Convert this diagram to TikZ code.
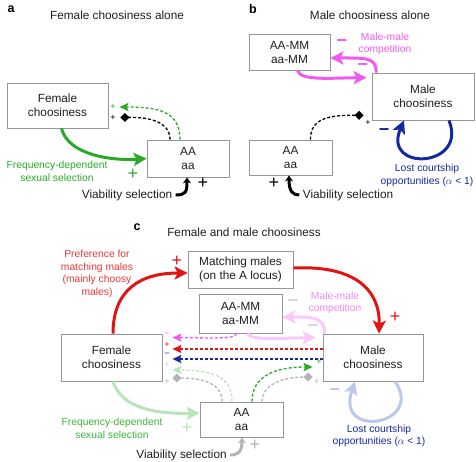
\documentclass[tikz,border=0pt]{standalone}
\usepackage{fontspec}
\setmainfont{Liberation Sans}
\usetikzlibrary{arrows.meta}

\definecolor{boxGray}{RGB}{150,150,150}
\definecolor{txtDark}{RGB}{30,30,30}
\definecolor{selGreen}{RGB}{40,170,40}
\definecolor{compMag}{RGB}{240,90,240}
\definecolor{lostBlue}{RGB}{20,40,160}
\definecolor{prefRed}{RGB}{225,20,20}
\definecolor{paleGreen}{RGB}{185,228,185}
\definecolor{paleMag}{RGB}{250,200,250}
\definecolor{paleBlue}{RGB}{185,200,235}
\definecolor{paleGray}{RGB}{180,180,180}
\definecolor{paleSign}{RGB}{225,205,225}

\tikzset{
    box/.style={draw=boxGray, line width=0.8pt, align=center, inner sep=0pt,
        text=txtDark, font=\fontsize{11.8}{14}\selectfont},
    heading/.style={text=txtDark, font=\fontsize{11.8}{14}\selectfont},
    letter/.style={font=\fontsize{12.5}{14}\selectfont\bfseries},
    lbl/.style={align=center, font=\fontsize{10.3}{12.6}\selectfont},
    signbig/.style={inner sep=0pt, font=\fontsize{18}{18}\selectfont},
    signsmall/.style={inner sep=0pt, font=\fontsize{9}{9}\selectfont},
    thickarrow/.style={line width=3pt, -{Stealth[length=13pt,width=13pt,inset=3pt]}},
    viaarrow/.style={line width=3pt, -{Stealth[length=6pt,width=8pt]}},
    dasharrow/.style={line width=1.3pt, dash pattern=on 3pt off 2pt,
        -{Stealth[length=9pt,width=8pt,inset=1.5pt]}},
    dashdiamond/.style={line width=1.3pt, dash pattern=on 3pt off 2pt,
        -{Diamond[length=9pt,width=9pt]}},
}

\begin{document}
\begin{tikzpicture}[x=1pt,y=-1pt]
    \useasboundingbox (0,0) rectangle (476,461);

    % a: female choosiness alone
    \node[letter] (la) at (11,9) {a};
    \node[heading] (tA) at (117,15) {Female choosiness alone};
    \node[box, minimum width=101pt, minimum height=45pt] (fcA) at (57.5,105.5) {Female\\choosiness};
    \node[box, minimum width=82pt, minimum height=37pt] (aaA) at (188,158.5) {AA\\aa};
    \node[lbl, text=selGreen] (fsA) at (57,171.5) {Frequency-dependent\\sexual selection};
    \node[heading] (vA) at (127,195) {Viability selection};

    \draw[thickarrow, selGreen] ([xshift=4]fcA.south) .. controls (68,155) and (112,161) .. (aaA.west);
    \draw[dasharrow, selGreen] ([xshift=-8]aaA.north) .. controls (180,112) and (160,107) .. ([xshift=11,yshift=-1.5]fcA.east);
    \draw[dashdiamond] ([xshift=-18]aaA.north) .. controls (170,122) and (150,117) .. ([xshift=12,yshift=-12]fcA.east);
    \draw[viaarrow] (vA.east) .. controls (186,195) and (187,192) .. ([xshift=-1]aaA.south);

    \node[signsmall, text=selGreen] (sA1) at (113,107) {+};
    \node[signsmall] (sA2) at (113,118) {+};
    \node[signbig, text=selGreen] (sA3) at (133,174) {+};
    \node[signbig] (sA4) at (203,183) {+};

    % b: male choosiness alone
    \node[letter] (lb) at (253,9) {b};
    \node[heading] (tB) at (370,15) {Male choosiness alone};
    \node[box, minimum width=81pt, minimum height=36pt] (mmB) at (289.5,52) {AA-MM\\aa-MM};
    \node[box, minimum width=102pt, minimum height=47pt] (mcB) at (423,96.5) {Male\\choosiness};
    \node[box, minimum width=83pt, minimum height=35pt] (aaB) at (290.5,157.5) {AA\\aa};
    \node[lbl, text=compMag] (cmB) at (385,44) {Male-male\\competition};
    \node[lbl, text=lostBlue] (loB) at (427,175.5) {Lost courtship\\opportunities ($\alpha$ < 1)};
    \node[heading] (vB) at (348,195) {Viability selection};

    \draw[thickarrow, compMag] ([xshift=-47]mcB.north) .. controls (377,57) and (365,58) .. ([yshift=-6]mmB.east);
    \draw[thickarrow, compMag] ([xshift=8]mmB.south) .. controls (300,81) and (330,78) .. ([xshift=-5,yshift=-5]mcB.north west);
    \draw[dashdiamond] ([xshift=20]aaB.north) .. controls (310,118) and (330,115) .. ([xshift=-8,yshift=5]mcB.south west);
    \draw[viaarrow] (vB.west) .. controls (293,195) and (289,192) .. ([xshift=-1.5]aaB.south);
    \draw[thickarrow, lostBlue] ([xshift=26]mcB.south) .. controls (468,168) and (382,172) .. ([xshift=-19]mcB.south);

    \node[signbig, text=compMag] (sB1) at (342,43) {\bfseries −};
    \node[signbig, text=compMag] (sB2) at (363,67) {\bfseries −};
    \node[signsmall] (sB3) at (368,123) {+};
    \node[signbig] (sB4) at (274,183) {+};
    \node[signbig, text=lostBlue] (sB5) at (384,132) {\bfseries −};

    % c: female and male choosiness
    \node[letter] (lc) at (137,227) {c};
    \node[heading] (tC) at (244,232) {Female and male choosiness};
    \node[box, minimum width=105pt, minimum height=37pt] (matC) at (240.5,269.5) {Matching males\\(on the A locus)};
    \node[box, minimum width=83pt, minimum height=39pt] (mmC) at (240.5,313.5) {AA-MM\\aa-MM};
    \node[box, minimum width=101pt, minimum height=47pt] (fcC) at (111.5,357.5) {Female\\choosiness};
    \node[box, minimum width=100pt, minimum height=47pt] (mcC) at (373,357.5) {Male\\choosiness};
    \node[box, minimum width=83pt, minimum height=35pt] (aaC) at (241.5,419.5) {AA\\aa};
    \node[lbl, text=prefRed!85!white] (prC) at (97,274) {Preference for\\matching males\\(mainly choosy\\males)};
    \node[lbl, text=compMag!75!white] (cmC) at (335,303) {Male-male\\competition};
    \node[lbl, text=selGreen!90!white] (fsC) at (112,428.5) {Frequency-dependent\\sexual selection};
    \node[lbl, text=lostBlue] (loC) at (379,436) {Lost courtship\\opportunities ($\alpha$ < 1)};
    \node[heading] (vC) at (181.5,455) {Viability selection};

    \draw[thickarrow, paleMag] ([xshift=2]mcC.north west) .. controls (325,316) and (310,317) .. ([yshift=-3.5]mmC.east);
    \draw[thickarrow, paleMag] ([xshift=7]mmC.south) .. controls (250,341) and (282,338) .. ([xshift=-7,yshift=-4]mcC.north west);
    \draw[thickarrow, paleGreen] ([xshift=1.5]fcC.south) .. controls (122,410) and (160,414) .. ([yshift=6.5]aaC.west);
    \draw[viaarrow, paleGray] (vC.east) .. controls (238,455) and (242,452) .. ([xshift=0.5]aaC.south);
    \draw[thickarrow, paleBlue] ([xshift=22]mcC.south) .. controls (425,425) and (335,440) .. ([xshift=-18]mcC.south);

    \draw[dasharrow, paleGreen] ([xshift=-9.5]aaC.north) .. controls (232,375) and (210,370) .. ([xshift=10,yshift=-12.5]fcC.east);
    \draw[dashdiamond, paleGray] ([xshift=-19.5]aaC.north) .. controls (222,382) and (200,378) .. ([xshift=10,yshift=-20.5]fcC.east);
    \draw[dasharrow, compMag] ([xshift=-4]mmC.south) .. controls (235,339) and (222,338) .. ([xshift=10,yshift=-4]fcC.north east);
    \draw[dasharrow, prefRed] ([yshift=8.5]mcC.west) -- ([xshift=10,yshift=8.5]fcC.east);
    \draw[dasharrow, lostBlue] ([yshift=-1.5]mcC.west) -- ([xshift=10,yshift=-1.5]fcC.east);
    \draw[dasharrow, selGreen] ([xshift=10.5]aaC.north) .. controls (252,376) and (275,367) .. ([xshift=-10,yshift=-9.5]mcC.west);
    \draw[dashdiamond, paleGray] ([xshift=20.5]aaC.north) .. controls (262,386) and (280,377) .. ([xshift=-10,yshift=-19.5]mcC.west);

    \draw[thickarrow, prefRed] ([xshift=1.5]fcC.north) .. controls (113,290) and (140,273) .. ([yshift=-3.5]matC.west);
    \draw[thickarrow, prefRed] ([yshift=1.5]matC.east) .. controls (355,265) and (380,290) .. ([xshift=6]mcC.north);

    \foreach \n/\s/\c/\y in {m/−/compMag/335, r/+/prefRed/345, b/−/lostBlue/355,
                             g/+/paleGreen/365, k/+/paleGray/382}{
        \node[signsmall, text=\c] (sC\n) at (167,\y) {\s};
    }
    \node[signsmall, text=selGreen] (sC1) at (319,362) {+};
    \node[signsmall, text=paleGray] (sC2) at (317,382) {+};
    \node[signbig, text=prefRed] (sC3) at (177,261) {+};
    \node[signbig, text=prefRed] (sC4) at (395,317) {+};
    \node[signbig, text=paleSign] (sC5) at (293,303) {\bfseries −};
    \node[signbig, text=paleSign] (sC6) at (313,328) {\bfseries −};
    \node[signbig, text=paleGreen] (sC7) at (187,428) {+};
    \node[signbig, text=paleGray] (sC8) at (255,445) {+};
    \node[signbig, text=paleBlue] (sC9) at (335,392) {\bfseries −};
\end{tikzpicture}
\end{document}
